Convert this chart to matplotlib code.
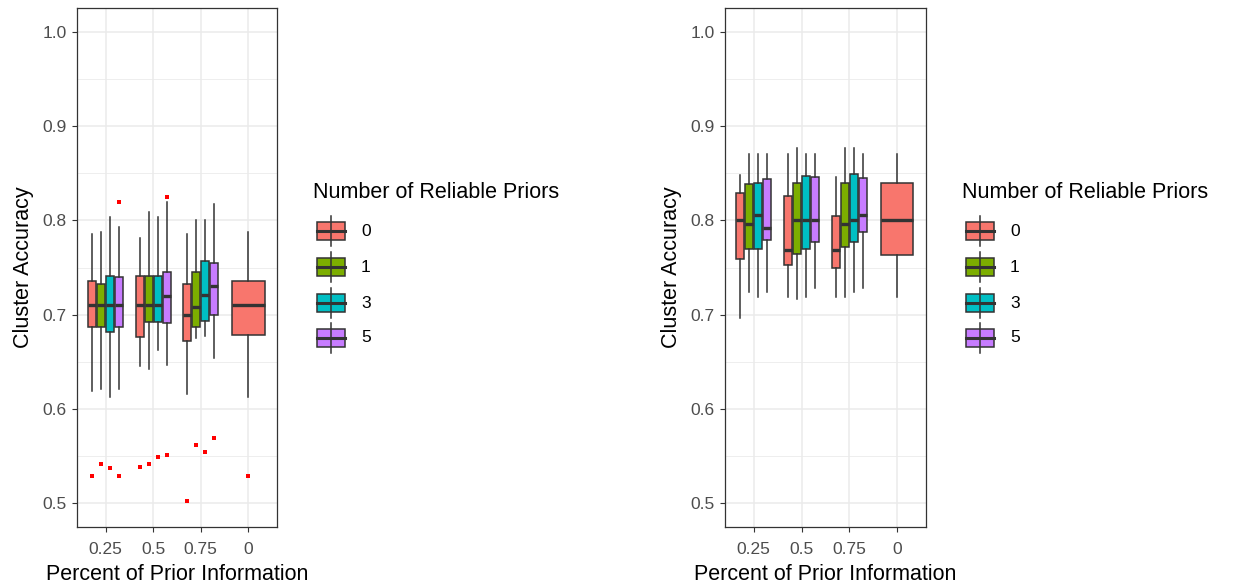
import numpy as np
import matplotlib.pyplot as plt
from matplotlib.patches import Rectangle
from matplotlib.lines import Line2D

plt.rcParams['font.family'] = ['Liberation Sans', 'DejaVu Sans']

# categories and groups
categories = ["0.25", "0.5", "0.75", "0"]
priors = ["0", "1", "3", "5"]
colors = ["#F8766D", "#7CAE00", "#00BFC4", "#C77CFF"]
# which (category, prior) boxes exist, in drawing order
box_cat = [0, 0, 0, 0, 1, 1, 1, 1, 2, 2, 2, 2, 3]
box_prior = [0, 1, 2, 3, 0, 1, 2, 3, 0, 1, 2, 3, 0]

# left panel
left_whislo = [0.619, 0.621, 0.613, 0.621, 0.646, 0.642, 0.663, 0.647, 0.616, 0.675, 0.677, 0.654, 0.613]
left_q1 = [0.687, 0.687, 0.682, 0.687, 0.676, 0.692, 0.692, 0.691, 0.672, 0.687, 0.693, 0.700, 0.678]
left_med = [0.710, 0.710, 0.710, 0.710, 0.710, 0.710, 0.710, 0.720, 0.700, 0.708, 0.721, 0.730, 0.710]
left_q3 = [0.736, 0.733, 0.741, 0.740, 0.741, 0.741, 0.741, 0.745, 0.732, 0.745, 0.757, 0.755, 0.736]
left_whishi = [0.786, 0.788, 0.804, 0.793, 0.781, 0.809, 0.804, 0.819, 0.786, 0.800, 0.800, 0.817, 0.788]
left_out = [[0.529], [0.542], [0.537], [0.819, 0.529],
            [0.539], [0.542], [0.549], [0.825, 0.551],
            [0.503], [0.562], [0.555], [0.569],
            [0.529]]

# right panel
right_whislo = [0.696, 0.724, 0.719, 0.724, 0.719, 0.717, 0.719, 0.728, 0.719, 0.719, 0.724, 0.728, 0.719]
right_q1 = [0.759, 0.770, 0.770, 0.779, 0.753, 0.764, 0.770, 0.777, 0.749, 0.772, 0.777, 0.788, 0.763]
right_med = [0.800, 0.796, 0.806, 0.792, 0.769, 0.800, 0.800, 0.800, 0.769, 0.796, 0.800, 0.806, 0.800]
right_q3 = [0.829, 0.838, 0.840, 0.844, 0.826, 0.840, 0.847, 0.846, 0.805, 0.840, 0.849, 0.845, 0.840]
right_whishi = [0.848, 0.870, 0.870, 0.870, 0.870, 0.877, 0.870, 0.870, 0.846, 0.877, 0.877, 0.870, 0.870]
right_out = [[] for _ in range(13)]

W, H = 1238, 586
fig = plt.figure(figsize=(W / 100, H / 100), dpi=100)

EDGE = "#333333"
GRID = "#EBEBEB"
TITLE_FS = 15.5
TICK_FS = 12.5


def positions():
    # ggplot-like dodge2: total width 0.75, 10% padding
    pos, wid = [], []
    for c, p in zip(box_cat, box_prior):
        idx = [k for k, cc in enumerate(box_cat) if cc == c]
        n = len(idx)
        j = len([k for k in idx if box_prior[k] < p])
        slot = 0.75 / n
        pos.append(c + 1 - 0.375 + slot * (j + 0.5))
        wid.append(slot * 0.9)
    return pos, wid


def panel(rect, whislo, q1, med, q3, whishi, out):
    ax = fig.add_axes(rect)
    pos, wid = positions()
    for k in range(len(box_cat)):
        st = [dict(whislo=whislo[k], q1=q1[k], med=med[k], q3=q3[k], whishi=whishi[k], fliers=[])]
        ax.bxp(st, positions=[pos[k]], widths=[wid[k]], patch_artist=True, showcaps=False,
               showfliers=False, manage_ticks=False,
               boxprops=dict(facecolor=colors[box_prior[k]], edgecolor=EDGE, linewidth=1.1),
               whiskerprops=dict(color=EDGE, linewidth=1.1),
               medianprops=dict(color=EDGE, linewidth=2.4, solid_capstyle='butt'),
               zorder=3)
        if out[k]:
            ax.plot([pos[k]] * len(out[k]), out[k], 's', color='red', markersize=2.3,
                    markeredgewidth=0, zorder=4)
    ax.set_xlim(0.4, 4.6)
    ax.set_ylim(0.475, 1.025)
    ax.set_xticks([1, 2, 3, 4])
    ax.set_xticklabels(categories)
    ax.set_yticks([0.5, 0.6, 0.7, 0.8, 0.9, 1.0])
    ax.set_yticklabels(["0.5", "0.6", "0.7", "0.8", "0.9", "1.0"])
    ax.set_yticks([0.55, 0.65, 0.75, 0.85, 0.95], minor=True)
    ax.grid(True, which='major', color=GRID, linewidth=1.1, zorder=0)
    ax.grid(True, which='minor', axis='y', color=GRID, linewidth=0.6, zorder=0)
    ax.set_axisbelow(True)
    ax.tick_params(axis='both', which='major', length=3.5, width=0.8, color=EDGE,
                   labelsize=TICK_FS, labelcolor="#4D4D4D")
    ax.tick_params(axis='x', which='major', pad=7)
    ax.tick_params(axis='y', which='major', pad=4)
    ax.tick_params(axis='both', which='minor', length=0)
    for s in ax.spines.values():
        s.set_color(EDGE)
        s.set_linewidth(0.9)
    ax.set_xlabel("Percent of Prior Information", fontsize=TITLE_FS, labelpad=5)
    ax.set_ylabel("Cluster Accuracy", fontsize=TITLE_FS, labelpad=6)
    return ax


def legend(x0):
    # x0: left of title in pixels
    fig.text(x0 / W, 1 - 192 / H, "Number of Reliable Priors", fontsize=TITLE_FS,
             ha='left', va='center')
    ys = [231, 267, 303, 338]
    for i, lab in enumerate(priors):
        yc = ys[i]
        bx, bw, bh = x0 + 4, 28, 18
        fig.add_artist(Line2D([(bx + bw / 2) / W] * 2, [1 - (yc - 15) / H, 1 - (yc + 15) / H],
                              color=EDGE, linewidth=1.1))
        fig.add_artist(Rectangle((bx / W, 1 - (yc + bh / 2) / H), bw / W, bh / H,
                                 facecolor=colors[i], edgecolor=EDGE, linewidth=1.1))
        fig.add_artist(Line2D([bx / W, (bx + bw) / W], [1 - yc / H] * 2,
                              color=EDGE, linewidth=2.2))
        fig.text((x0 + 48) / W, 1 - yc / H, lab, fontsize=TICK_FS, ha='left', va='center')


panel([77 / W, 1 - 527 / H, 200 / W, 519 / H],
      left_whislo, left_q1, left_med, left_q3, left_whishi, left_out)
legend(313)
panel([725 / W, 1 - 527 / H, 201 / W, 519 / H],
      right_whislo, right_q1, right_med, right_q3, right_whishi, right_out)
legend(962)

fig.savefig("out.png", dpi=100, facecolor='white')
